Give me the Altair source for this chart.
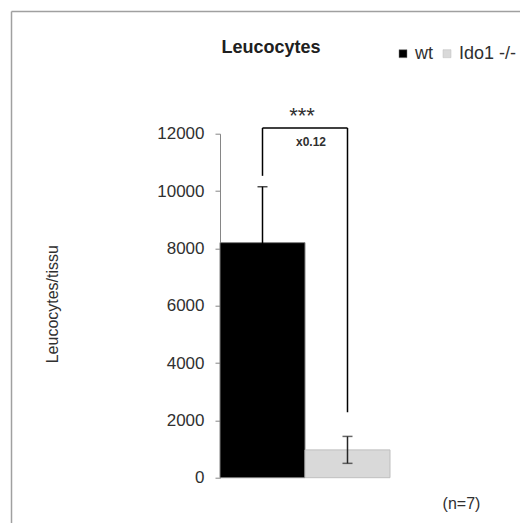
import altair as alt
import pandas as pd

# ---- data ----
groups = ["wt", "Ido1 -/-"]
means = [8200, 970]
sds = [1950, 470]
fill_colors = ["#000000", "#d9d9d9"]
edge_colors = ["#7f7f7f", "#bfbfbf"]
err_colors = ["#000000", "#262626"]
y_ticks = [0, 2000, 4000, 6000, 8000, 10000, 12000]

bracket_top = 12200
bracket_left_bottom = 10530
bracket_right_bottom = 2280
stars_label = "***"
stars_y = 12380
ratio_label = "x0.12"
ratio_y = 11700
n_label = "(n=7)"
n_y = -917
title_text = "Leucocytes"
y_title = "Leucocytes/tissu"

FONT = "Liberation Sans"

df = pd.DataFrame({"group": groups, "mean": means, "sd": sds})
df["lo"] = df["mean"] - df["sd"]
df["hi"] = df["mean"] + df["sd"]

x_scale = alt.Scale(domain=groups, paddingInner=0, paddingOuter=0)
y_scale = alt.Scale(domain=[0, 12000], nice=False)
err_color = alt.Color("group:N", scale=alt.Scale(domain=groups, range=err_colors), legend=None)

base = alt.Chart(df)

bars = base.mark_bar(strokeWidth=1).encode(
    x=alt.X("group:N", scale=x_scale, axis=None, sort=groups),
    y=alt.Y(
        "mean:Q",
        scale=y_scale,
        axis=alt.Axis(
            values=y_ticks,
            format="d",
            grid=False,
            domainColor="#868686",
            tickColor="#868686",
            tickSize=5,
            labelPadding=11,
            labelFont=FONT,
            labelFontSize=17,
            labelColor="#303030",
            title=y_title,
            titleFont=FONT,
            titleFontSize=16,
            titleFontWeight="normal",
            titleColor="#303030",
            titleAngle=270,
            titleX=-168,
            titleY=170,
            titleAlign="center",
            titleBaseline="middle",
        ),
    ),
    fill=alt.Fill(
        "group:N",
        scale=alt.Scale(domain=groups, range=fill_colors),
        legend=alt.Legend(
            orient="none",
            legendX=174,
            legendY=-89,
            direction="horizontal",
            title=None,
            symbolType="square",
            symbolSize=64,
            symbolStrokeColor="#a6a6a6",
            symbolStrokeWidth=0.5,
            labelFont=FONT,
            labelFontSize=18,
            labelColor="#303030",
            labelOffset=3,
            columnPadding=5,
        ),
    ),
    stroke=alt.Stroke("group:N", scale=alt.Scale(domain=groups, range=edge_colors), legend=None),
)

err = base.mark_rule(strokeWidth=1.5).encode(
    x=alt.X("group:N", scale=x_scale, sort=groups),
    y=alt.Y("lo:Q", scale=y_scale),
    y2="hi:Q",
    color=err_color,
)
cap_hi = base.mark_tick(size=10, thickness=1.5).encode(
    x=alt.X("group:N", scale=x_scale, sort=groups),
    y=alt.Y("hi:Q", scale=y_scale),
    color=err_color,
)
cap_lo = base.mark_tick(size=10, thickness=1.5).encode(
    x=alt.X("group:N", scale=x_scale, sort=groups),
    y=alt.Y("lo:Q", scale=y_scale),
    color=err_color,
)

bracket_df = pd.DataFrame({
    "x": [groups[0], groups[0], groups[1]],
    "x2": [groups[0], groups[1], groups[1]],
    "y": [bracket_left_bottom, bracket_top, bracket_top],
    "y2": [bracket_top, bracket_top, bracket_right_bottom],
})
bracket = alt.Chart(bracket_df).mark_rule(color="#000000", strokeWidth=1.5).encode(
    x=alt.X("x:N", scale=x_scale, sort=groups),
    x2="x2:N",
    y=alt.Y("y:Q", scale=y_scale),
    y2="y2:Q",
)

stars = alt.Chart(pd.DataFrame({"g": [groups[0]], "y": [stars_y], "t": [stars_label]})).mark_text(
    font=FONT, fontSize=22, color="#303030", dx=-3, align="center", baseline="alphabetic"
).encode(
    x=alt.X("g:N", scale=x_scale, bandPosition=1),
    y=alt.Y("y:Q", scale=y_scale),
    text="t:N",
)
ratio = alt.Chart(pd.DataFrame({"g": [groups[0]], "y": [ratio_y], "t": [ratio_label]})).mark_text(
    font=FONT, fontSize=12, fontWeight="bold", color="#303030", dx=6, align="center", baseline="middle"
).encode(
    x=alt.X("g:N", scale=x_scale, bandPosition=1),
    y=alt.Y("y:Q", scale=y_scale),
    text="t:N",
)
nlab = alt.Chart(pd.DataFrame({"g": [groups[1]], "y": [n_y], "t": [n_label]})).mark_text(
    font=FONT, fontSize=16, color="#303030", dx=114, align="center", baseline="middle"
).encode(
    x=alt.X("g:N", scale=x_scale),
    y=alt.Y("y:Q", scale=y_scale),
    text="t:N",
)

frame_top = alt.Chart(pd.DataFrame({"a": [0]})).mark_rule(color="#a0a0a0", strokeWidth=1.5).encode(
    x=alt.value(-208.5), x2=alt.value(320), y=alt.value(-122.2)
)
frame_left = alt.Chart(pd.DataFrame({"a": [0]})).mark_rule(color="#a0a0a0", strokeWidth=1.5).encode(
    x=alt.value(-208.5), y=alt.value(-122.2), y2=alt.value(420)
)

chart = alt.layer(
    frame_top, frame_left, bars, err, cap_hi, cap_lo, bracket, stars, ratio, nlab
).properties(
    width=170,
    height=344,
    autosize=alt.AutoSizeParams(type="none"),
    padding={"left": 212, "top": 125.7, "right": 130, "bottom": 45},
    title=alt.TitleParams(
        text=title_text,
        font=FONT,
        fontSize=18,
        fontWeight="bold",
        color="#202020",
        anchor="middle",
        dx=-34,
        dy=50,
    ),
).configure_view(stroke=None)

chart.save("out.html", embed_options={"renderer": "svg", "actions": False})
